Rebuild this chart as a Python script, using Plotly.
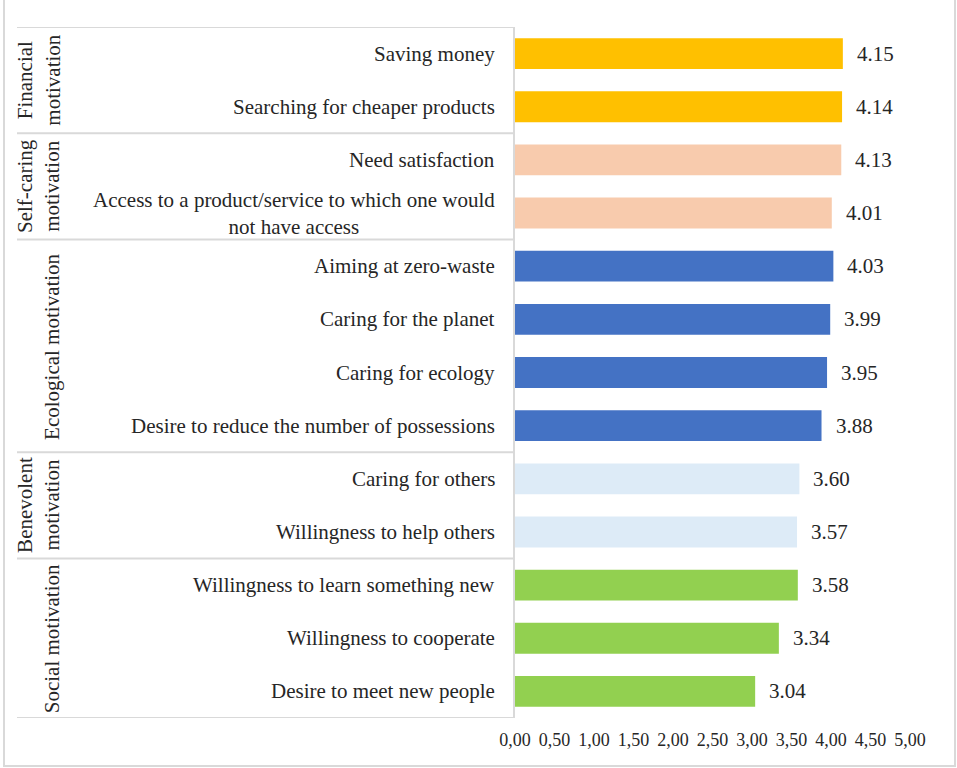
import plotly.graph_objects as go

# Motivation items, top to bottom
items = [
    "Saving money",
    "Searching for cheaper products",
    "Need satisfaction",
    "Access to a product/service to which one would<br>not have access",
    "Aiming at zero-waste",
    "Caring for the planet",
    "Caring for ecology",
    "Desire to reduce the number of possessions",
    "Caring for others",
    "Willingness to help others",
    "Willingness to learn something new",
    "Willingness to cooperate",
    "Desire to meet new people",
]
scores = [4.15, 4.14, 4.13, 4.01, 4.03, 3.99, 3.95, 3.88, 3.60, 3.57, 3.58, 3.34, 3.04]

# Motivation groups: label, number of items, bar colour
groups = ["Financial<br>motivation", "Self-caring<br>motivation", "Ecological motivation",
          "Benevolent<br>motivation", "Social motivation"]
group_sizes = [2, 2, 4, 2, 3]
group_colors = ["#FFC000", "#F8CBAD", "#4472C4", "#DDEBF7", "#92D050"]

tick_values = [0, 0.5, 1, 1.5, 2, 2.5, 3, 3.5, 4, 4.5, 5]
tick_labels = ["0,00", "0,50", "1,00", "1,50", "2,00", "2,50", "3,00", "3,50", "4,00", "4,50", "5,00"]

W, H = 957, 768
L, R, T, B = 515, 47, 27, 50
plot_w = W - L - R

def px_to_paper(px):
    return (px - L) / plot_w

bar_colors = []
for c, n in zip(group_colors, group_sizes):
    bar_colors += [c] * n

ypos = list(range(len(items)))
FONT = "Liberation Serif, Times New Roman, serif"
TXT = "#262626"

fig = go.Figure(go.Bar(
    x=scores, y=ypos, orientation="h",
    marker=dict(color=bar_colors, line=dict(width=0)),
    width=0.58, hoverinfo="skip",
))

ann = []
# value labels
for i, v in enumerate(scores):
    ann.append(dict(x=v, y=i, xref="x", yref="y", text=f"{v:.2f}", showarrow=False,
                    xanchor="left", xshift=12, font=dict(size=21, color=TXT)))
# item labels
for i, t in enumerate(items):
    ann.append(dict(x=px_to_paper(497), y=i, xref="paper", yref="y", text=t, showarrow=False,
                    xanchor="right", align="center", font=dict(size=21, color=TXT)))

shapes = []
line_col = "#d9d9d9"
start = 0
boundaries = [-0.5]
for g, n in zip(groups, group_sizes):
    mid = start + (n - 1) / 2
    ann.append(dict(x=px_to_paper(66), y=mid, xref="paper", yref="y", text=g, showarrow=False,
                    textangle=-90, xanchor="right", yanchor="middle", align="center",
                    font=dict(size=21, color=TXT)))
    start += n
    boundaries.append(start - 0.5)

for b in boundaries:
    shapes.append(dict(type="line", xref="paper", yref="y", x0=px_to_paper(17), x1=0,
                       y0=b, y1=b, line=dict(color=line_col, width=2)))
# vertical divider between labels and bars
shapes.append(dict(type="line", xref="paper", yref="y", x0=px_to_paper(514), x1=px_to_paper(514),
                   y0=-0.5, y1=len(items) - 0.5, line=dict(color=line_col, width=2)))
# outer frame
shapes.append(dict(type="rect", xref="paper", yref="paper",
                   x0=px_to_paper(4), x1=px_to_paper(955),
                   y0=(H - B - 766) / (H - T - B), y1=1 + (T + 5) / (H - T - B),
                   line=dict(color=line_col, width=2)))

fig.update_layout(
    width=W, height=H,
    margin=dict(l=L, r=R, t=T, b=B),
    paper_bgcolor="white", plot_bgcolor="white",
    font=dict(family=FONT, color=TXT),
    showlegend=False,
    xaxis=dict(range=[0, 5], tickvals=tick_values, ticktext=tick_labels,
               tickfont=dict(size=18, color=TXT), showgrid=False, zeroline=False,
               showline=False, ticks="", ticklabelstandoff=9, fixedrange=True),
    yaxis=dict(range=[len(items) - 0.5, -0.5], showticklabels=False, showgrid=False,
               zeroline=False, showline=False, ticks="", fixedrange=True),
    annotations=ann,
    shapes=shapes,
)

fig.write_html("out.html")
